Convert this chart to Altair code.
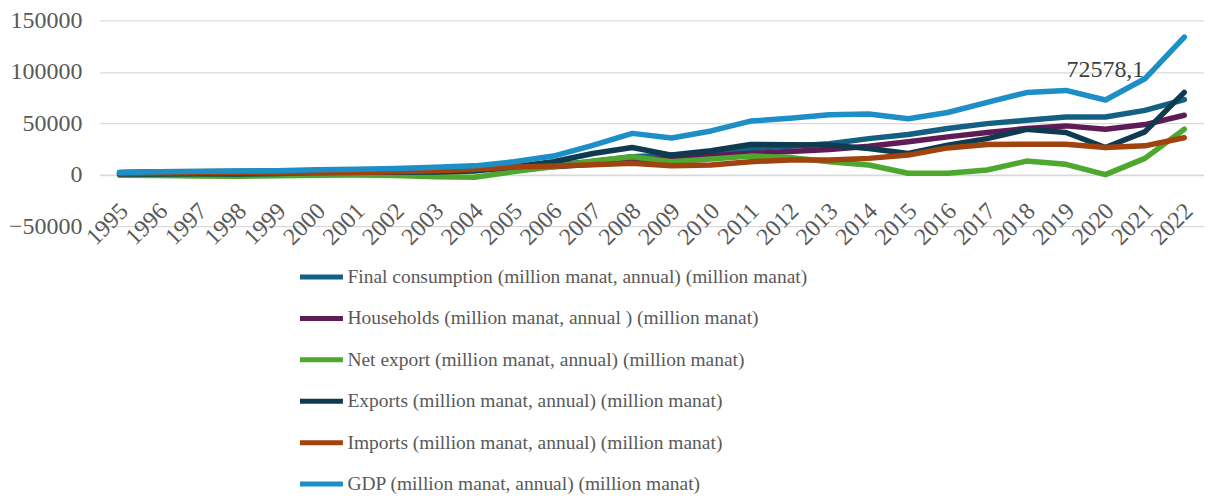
import altair as alt
import pandas as pd

years = [str(y) for y in range(1995, 2023)]

final_consumption = [2100, 2700, 3100, 3350, 3500, 3700, 4000, 4500, 5300, 6300,
                     7400, 9300, 12700, 17500, 19000, 21000, 25500, 27500, 30000, 35000,
                     39000, 44800, 49600, 52900, 56000, 56000, 62500, 73000]
households = [1800, 2300, 2600, 2800, 2900, 3100, 3300, 3700, 4400, 5300,
              6300, 7700, 10000, 14000, 15800, 18400, 20600, 22500, 24500, 27500,
              32000, 36700, 40900, 44800, 47400, 44200, 48700, 57700]
net_export = [-500, -900, -1300, -1600, -1200, -600, -400, -900, -2000, -2600,
              2900, 7700, 13200, 17400, 12600, 15200, 18000, 16700, 12600, 9400,
              1300, 1300, 4500, 13200, 10000, 0, 15800, 44200]
exports = [650, 650, 800, 600, 1100, 2000, 2200, 2400, 2600, 3600,
           7600, 12500, 20600, 26400, 19000, 23200, 29300, 29000, 28700, 25500,
           20600, 28700, 35000, 44000, 41000, 26400, 41600, 80000]
imports = [1100, 1500, 1800, 1800, 1600, 1900, 2000, 2800, 3800, 5100,
           7500, 8500, 9500, 11000, 8700, 9400, 12600, 14200, 14200, 15800,
           19000, 26000, 29300, 29500, 29500, 26400, 28000, 35800]
gdp = [2133, 2732, 3159, 3441, 3776, 4718, 5316, 6063, 7146, 8530,
       12523, 18046, 28361, 40138, 35602, 42465, 52083, 54744, 58182, 59014,
       54380, 60425, 70338, 79797, 81896, 72578.1, 93203, 133800]

series_names = [
    "Final consumption (million manat, annual)  (million manat)",
    "Households (million manat, annual )  (million manat)",
    "Net export (million manat, annual)  (million manat)",
    "Exports (million manat, annual)  (million manat)",
    "Imports (million manat, annual)  (million manat)",
    "GDP (million manat, annual)  (million manat)",
]
series_colors = ["#156082", "#5f1b56", "#4ea72e", "#0f3b50", "#a1430f", "#1e8fc6"]
series_values = [final_consumption, households, net_export, exports, imports, gdp]

y_ticks = [-50000, 0, 50000, 100000, 150000]
label_year = "2020"

rows = []
for name, vals in zip(series_names, series_values):
    for yr, v in zip(years, vals):
        rows.append({"year": yr, "series": name, "value": v})
df = pd.DataFrame(rows)

idx = years.index(label_year)
df_label = pd.DataFrame({
    "year": [label_year],
    "value": [gdp[idx]],
    "label": [f"{gdp[idx]:.1f}".replace(".", ",")],
})

FONT = "Liberation Serif"
PLOT_H = 206

x_enc = alt.X(
    "year:O", sort=years,
    scale=alt.Scale(type="point", padding=0.5),
    axis=alt.Axis(title=None, labelAngle=-45, labelFontSize=24, labelFont=FONT,
                  labelColor="#595959", ticks=False, domainColor="#d9d9d9",
                  domainWidth=1.3, offset=-PLOT_H / 4, labelPadding=24,
                  labelOffset=-4, grid=False),
)
y_enc = alt.Y(
    "value:Q",
    scale=alt.Scale(domain=[-50000, 150000], nice=False, zero=False),
    axis=alt.Axis(title=None, values=y_ticks, format="d", labelFontSize=24,
                  labelFont=FONT, labelColor="#595959", domain=False, ticks=False,
                  gridColor="#d9d9d9", gridWidth=1.3, labelPadding=18),
)
color_enc = alt.Color(
    "series:N", sort=series_names,
    scale=alt.Scale(domain=series_names, range=series_colors),
    legend=alt.Legend(title=None, orient="none", legendX=198, legendY=233,
                      direction="vertical", symbolType="stroke", symbolSize=1849,
                      symbolStrokeWidth=5, labelFontSize=19.5, labelFont=FONT,
                      labelColor="#595959", labelOffset=2, rowPadding=7.5,
                      labelLimit=0),
)

layers = []
for name in series_names:
    layers.append(
        alt.Chart(df)
        .transform_filter(alt.datum.series == name)
        .mark_line(strokeWidth=5.5, strokeCap="round", strokeJoin="round")
        .encode(x=x_enc, y=y_enc, color=color_enc)
    )

text = alt.Chart(df_label).mark_text(
    font=FONT, fontSize=24, color="#404040", baseline="alphabetic",
    align="center", dy=-23
).encode(x=x_enc, y=y_enc, text="label:N")

chart = alt.layer(*layers, text).properties(
    width=1106, height=PLOT_H,
    padding={"left": 92, "top": 12, "right": 0, "bottom": 268},
    autosize=alt.AutoSizeParams(type="none"),
).configure_view(stroke=None)

chart.save("out.html", embed_options={"renderer": "svg", "actions": False})
